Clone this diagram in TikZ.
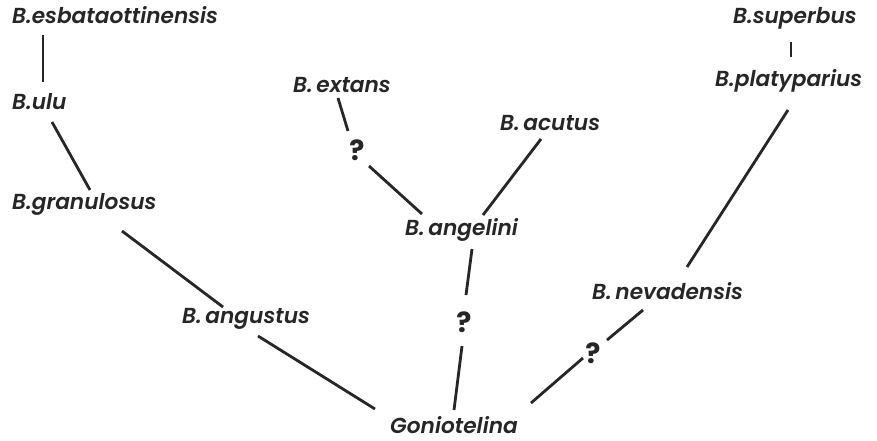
\documentclass[tikz,border=0pt]{standalone}
\usepackage{fontspec}
\setmainfont{Poppins}[ItalicFont={Poppins SemiBold Italic}]
\begin{document}
\begin{tikzpicture}[x=1pt,y=-1pt,
  lbl/.style={font=\fontsize{21.7}{24}\selectfont\itshape, inner sep=0pt, anchor=base west, text=black!85},
  qm/.style={font=\fontsize{28}{30}\selectfont\bfseries, inner sep=0pt, anchor=base, text=black!85},
  conn/.style={line width=2.8pt, draw=black!85}]
\useasboundingbox[fill=white] (0,0) rectangle (877,441);
\node[lbl] (esb) at (12,24) {B.esbataottinensis};
\node[lbl] (ulu) at (12,110) {B.ulu};
\node[lbl] (gran) at (12,209) {B.granulosus};
\node[lbl] (ang) at (182,323) {B.\,angustus};
\node[lbl] (gon) at (390,433) {Goniotelina};
\node[lbl] (angel) at (405,235) {B.\,angelini};
\node[lbl] (ext) at (293,93) {B.\,extans};
\node[lbl] (acu) at (500,131) {B.\,acutus};
\node[lbl] (sup) at (733,24) {B.superbus};
\node[lbl] (pla) at (715,87) {B.platyparius};
\node[lbl] (nev) at (592,299) {B.\,nevadensis};
\node[qm] (q1) at (357,160) {?};
\node[qm] (q2) at (464,332) {?};
\node[qm] (q3) at (593,363) {?};
\draw[conn] ([shift={(31,11)}]esb.base west) -- ([shift={(31,-28)}]ulu.base west);
\draw[conn] ([shift={(40,12)}]ulu.base west) -- ([shift={(78,-19)}]gran.base west);
\draw[conn] ([shift={(110,22)}]gran.base west) -- ([shift={(41,-16)}]ang.base west);
\draw[conn] ([shift={(76,13)}]ang.base west) -- ([shift={(-15,-24)}]gon.base west);
\draw[conn] ([shift={(64,-23)}]gon.base west) -- ([shift={(-2,14)}]q2.base);
\draw[conn] ([shift={(2,-37)}]q2.base) -- ([shift={(67,14)}]angel.base west);
\draw[conn] ([shift={(17,-21)}]angel.base west) -- ([shift={(12,6)}]q1.base);
\draw[conn] ([shift={(-9,-29)}]q1.base) -- ([shift={(45,5)}]ext.base west);
\draw[conn] ([shift={(78,-20)}]angel.base west) -- ([shift={(41,8)}]acu.base west);
\draw[conn] ([shift={(58,18)}]sup.base west) -- ([shift={(76,-30)}]pla.base west);
\draw[conn] ([shift={(73,23)}]pla.base west) -- ([shift={(95,-32)}]nev.base west);
\draw[conn] ([shift={(51,11)}]nev.base west) -- ([shift={(14,-23)}]q3.base);
\draw[conn] ([shift={(-10,-5)}]q3.base) -- ([shift={(141,-30)}]gon.base west);
\end{tikzpicture}
\end{document}
